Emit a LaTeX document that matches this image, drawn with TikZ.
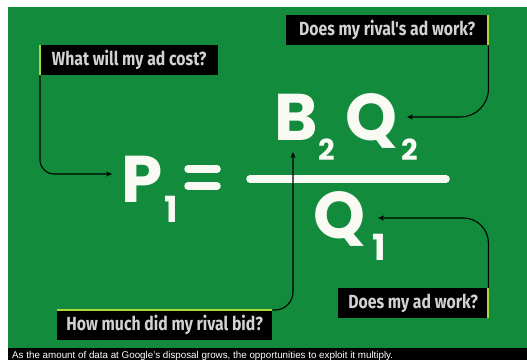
\documentclass[tikz,border=0pt]{standalone}
\usepackage{fontspec}
\usetikzlibrary{arrows.meta}
\setmainfont{Liberation Sans}
\newfontfamily\geo{Poppins}
\newfontfamily\labfont[FakeStretch=0.83]{Fira Sans}
\definecolor{bggreen}{RGB}{18,140,60}
\definecolor{accentc}{RGB}{170,215,60}
\definecolor{labtext}{RGB}{210,210,210}
\definecolor{formula}{RGB}{250,250,245}
\begin{document}
\begin{tikzpicture}[x=1pt,y=-1pt,
 labbox/.style={fill=black, text=labtext, font=\labfont\bfseries\fontsize{19}{19}\selectfont, minimum height=30pt, inner sep=0pt, anchor=north west},
 accent/.style={draw=accentc, line width=2pt},
 conn/.style={draw=black, line width=1.1pt, -{Stealth[length=6pt,width=5pt]}},
 big/.style={text=formula, inner sep=0pt, anchor=base west, font=\geo\bfseries\fontsize{66}{66}\selectfont},
 sub/.style={text=formula, inner sep=0pt, anchor=base west, font=\geo\bfseries\fontsize{29}{29}\selectfont},
 subone/.style={text=formula, inner sep=0pt, anchor=base west, font=\geo\bfseries\fontsize{36}{36}\selectfont},
 fbar/.style={draw=formula, line width=7.5pt, line cap=round}]
\useasboundingbox (0,0) rectangle (527,360);
\fill[white] (0,0) rectangle (527,360);
\fill[bggreen] (8,7) rectangle (527,348);
\fill[black] (8,348) rectangle (527,360);
% formula
\node[big] (P) at (121,202) {P\kern0.03em\raisebox{-20pt}{\fontsize{36}{36}\selectfont 1}};
\draw[fbar] (188,169) -- (217,169);
\draw[fbar] (188,186) -- (217,186);
\draw[fbar] (250,179) -- (446,179);
\node[big] (B) at (274,140) {B};
\node[sub] (B2) at (318,160) {2};
\node[big] (Q) at (345,140) {Q};
\node[sub] (Q2) at (401,160) {2};
\node[big] (Qd) at (313,238) {Q};
\node[subone] (Qd1) at (372,260) {1};
% labels
\node[labbox, minimum width=178pt] (q1) at (40,45) {What will my ad cost?};
\node[labbox, minimum width=202pt] (q2) at (286,15) {Does my rival's ad work?};
\node[labbox, minimum width=215pt] (q3) at (57,310) {How much did my rival bid?};
\node[labbox, minimum width=150pt] (q4) at (338,288) {Does my ad work?};
\draw[accent] (q1.north west) -- (q1.south west);
\draw[accent] (q2.north east) -- (q2.south east);
\draw[accent] (q3.north west) -- (q3.north east);
\draw[accent] (q4.north east) -- (q4.south east);
% arrow tips
\coordinate (tP) at (112,174);
\coordinate (tQ2) at (407,117);
\coordinate (tB) at (293,152);
\coordinate (tQd) at (378,218);
\draw[conn, rounded corners=14pt] (q1.south west) |- (tP);
\draw[conn, rounded corners=28pt] (q2.south east) |- (tQ2);
\draw[conn, rounded corners=18pt] (q3.north east) -| (tB);
\draw[conn, rounded corners=25pt] (q4.north east) |- (tQd);
% caption
\node[anchor=base west, text=white, inner sep=0pt, font=\fontsize{9.8}{9.8}\selectfont] (cap) at (12,358.8) {As the amount of data at Google's disposal grows, the opportunities to exploit it multiply.};
\end{tikzpicture}
\end{document}
